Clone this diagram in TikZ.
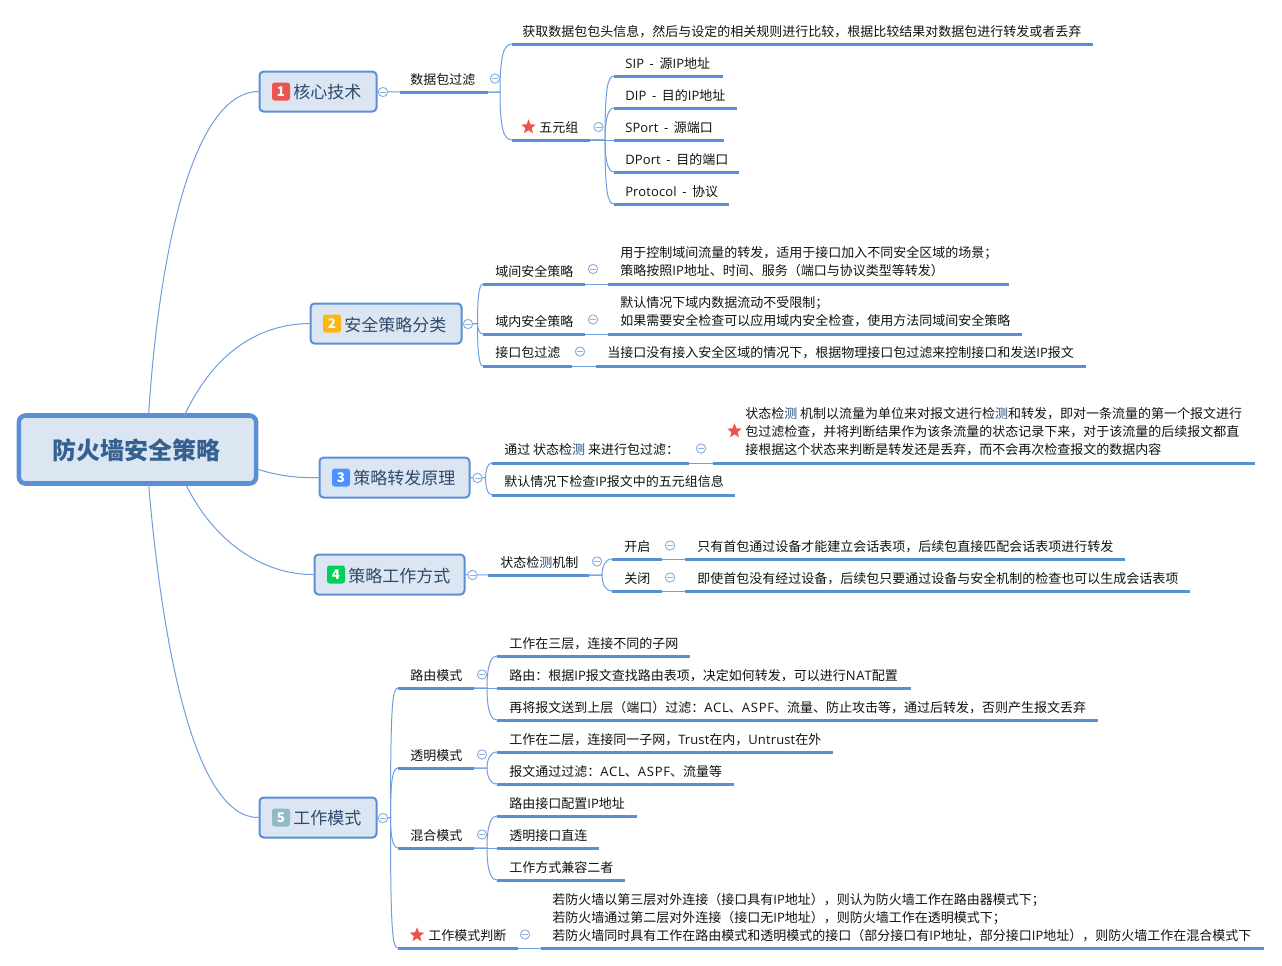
\documentclass[tikz,border=0pt]{standalone}
\usepackage{fontspec}
\setmainfont{Noto Sans CJK SC}
\newfontfamily\latincaps[LetterSpace=6.2]{Open Sans}
\newfontfamily\latinword[LetterSpace=1,WordSpace=1.6]{Open Sans}
\newcommand{\lat}[1]{{\latincaps #1}}
\newcommand{\latw}[1]{{\latinword #1}}
\usetikzlibrary{calc,shapes.geometric}
\definecolor{lineblue}{HTML}{5A8FD6}
\definecolor{thinblue}{HTML}{6F9DDD}
\definecolor{foldblue}{HTML}{8FB2E2}
\definecolor{boxfill}{HTML}{DCE6F3}
\definecolor{roottext}{HTML}{34618F}
\definecolor{branchtext}{HTML}{2E4A6B}
\definecolor{leaftext}{HTML}{111111}
\definecolor{starred}{HTML}{EF5350}
\definecolor{detect}{HTML}{23497A}
\definecolor{badgeamber}{HTML}{FDB515}
\definecolor{badgeblue}{HTML}{4F8FFF}
\definecolor{badgegreen}{HTML}{00CF5A}
\definecolor{badgeteal}{HTML}{8FBCC4}
\tikzset{
  x=0.75pt,y=-0.75pt,
  link/.style={draw=thinblue,line width=0.75pt},
  under/.style={draw=lineblue,line width=2.25pt},
  leaf/.style={anchor=west,inner sep=0pt,text=leaftext,font=\fontsize{9.75}{13.5}\selectfont,align=left},
  rootbox/.style={draw=lineblue,fill=boxfill,line width=3.4pt,rounded corners=5pt,text=roottext,font=\fontsize{18}{20}\selectfont\bfseries,inner sep=0pt,anchor=center},
  branchbox/.style={draw=lineblue,fill=boxfill,line width=1.5pt,rounded corners=3pt,inner sep=0pt},
  branchlabel/.style={anchor=west,inner sep=0pt,text=branchtext,font=\fontsize{12.75}{15}\selectfont},
  badge/.style={fill=#1,rounded corners=2pt,minimum size=13.5pt,inner sep=0pt,text=white,font=\fontsize{10}{10}\selectfont\bfseries},
  fold/.style={circle,draw=foldblue,fill=white,line width=0.75pt,minimum size=7pt,inner sep=0pt,
    path picture={\draw[foldblue,line width=0.6pt] ($(path picture bounding box.center)+(-3,0)$) -- ($(path picture bounding box.center)+(3,0)$);}},
  starmark/.style={star,star points=5,star point ratio=2.3,fill=starred,minimum size=11.5pt,inner sep=0pt},
}
% name, x0, x1, yline, textx, texty, text
\newcommand{\topic}[7]{%
  \coordinate (#1L) at (#2,#4);\coordinate (#1R) at (#3,#4);
  \draw[under] (#1L) -- (#1R);
  \node[leaf] (#1) at (#5,#6+1) {#7};}
% box name, x0,y0,x1,y1, badge colour, number, text
\newcommand{\branch}[8]{%
  \node[branchbox,minimum width={(#4-#2-1)*0.75pt},minimum height={(#5-#3-1)*0.75pt}] (#1) at ({(#2+#4)/2},{(#3+#5)/2}) {};
  \node[badge=#6] (#1i) at ({#2+22},{(#3+#5)/2}) {#7};
  \node[branchlabel] (#1t) at ({#2+34},{(#3+#5)/2+1}) {#8};}
% from, to, horizontal run: runs vertically, then rounds into the child
\newcommand{\elbow}[3]{%
  \coordinate (jj) at ($(#1)+(#3,0)$);
  \draw[link] let \p1=(jj),\p2=(#2),\n1={(\y2>\y1?1:-1)*min(abs(\y2-\y1)*0.5,9pt)} in
    (#1) -- (jj) .. controls (\x1,{\y2-\n1}) and ($(jj|-#2)!.3!(#2)$) .. (#2);}
\newcommand{\foldat}[3]{\node[fold] (#1) at (#2,#3) {};}
\begin{document}
\begin{tikzpicture}
\useasboundingbox (0,0) rectangle (1282,965);
\node[rootbox,minimum width=178pt,minimum height=51pt] (root) at (137.5,449.5) {\kern-0.75pt\raisebox{-7.6pt}[0pt][0pt]{防火墙安全策略}\kern0.75pt};

\branch{b1}{259}{71}{377}{112}{starred}{1}{核心技术}
\branch{b2}{310}{303}{462}{344}{badgeamber}{2}{安全策略分类}
\branch{b3}{319}{457}{470}{498}{badgeblue}{3}{策略转发原理}
\branch{b4}{314}{554}{465}{595}{badgegreen}{4}{策略工作方式}
\branch{b5}{259}{797}{377}{838}{badgeteal}{5}{工作模式}

\draw[link] (root.north west)++(132,2) .. controls +(11,-172) and (195,92) .. (b1.west);
\draw[link] (root.north west)++(168,2) .. controls +(30,-64) and (260,324) .. (b2.west);
\draw[link] (root.east)++(0,20) .. controls +(22,7) and (300,478) .. (b3.west);
\draw[link] (root.south west)++(169,-2) .. controls +(29,60) and (265,575) .. (b4.west);
\draw[link] (root.south west)++(132,-2) .. controls +(14,165) and (195,818) .. (b5.west);

% --- branch 1
\topic{pf}{400}{488}{92}{410}{78.5}{数据包过滤}
\topic{pfa}{512}{1093}{44}{522}{30.5}{获取数据包包头信息，然后与设定的相关规则进行比较，根据比较结果对数据包进行转发或者丢弃}
\topic{five}{512}{590}{140}{539}{126.5}{五元组}
\node[starmark] (fivestar) at (528.5,127) {};
\topic{sip}{614}{723}{76}{625}{62.5}{\latw{SIP - }源\latw{IP}地址}
\topic{dip}{614}{737}{108}{625}{94.5}{\latw{DIP - }目的\latw{IP}地址}
\topic{spo}{614}{724}{140}{625}{126.5}{\latw{SPort - }源端口}
\topic{dpo}{614}{739}{172}{625}{158.5}{\latw{DPort - }目的端口}
\topic{pro}{614}{729}{204}{625}{190.5}{\latw{Protocol - }协议}
\draw[link] (b1.east) -- (pfL);
\elbow{pfR}{pfaL}{12}
\elbow{pfR}{fiveL}{12}
\draw[link] (fiveR) -- (spoL);
\elbow{fiveR}{sipL}{15}
\elbow{fiveR}{dipL}{15}
\elbow{fiveR}{dpoL}{15}
\elbow{fiveR}{proL}{15}
\foldat{f1}{383}{92}
\foldat{f2}{495}{78.5}
\foldat{f3}{598.5}{127}

% --- branch 2
\topic{dj}{483}{585}{284}{495}{270}{域间安全策略}
\topic{djt}{608}{1009}{284}{620}{261}{用于控制域间流量的转发，适用于接口加入不同安全区域的场景；\\策略按照\latw{IP}地址、时间、服务（端口与协议类型等转发）}
\topic{dn}{483}{585}{334}{495}{320}{域内安全策略}
\topic{dnt}{608}{1022}{334}{620}{311}{默认情况下域内数据流动不受限制；\\如果需要安全检查可以应用域内安全检查，使用方法同域间安全策略}
\topic{jk}{483}{572}{366}{495}{352}{接口包过滤}
\topic{jkt}{596}{1086}{366}{607}{352}{当接口没有接入安全区域的情况下，根据物理接口包过滤来控制接口和发送\latw{IP}报文}
\elbow{b2.east}{djL}{15}
\elbow{b2.east}{dnL}{15}
\elbow{b2.east}{jkL}{15}
\draw[link] (djR) -- (djtL);
\draw[link] (dnR) -- (dntL);
\draw[link] (jkR) -- (jktL);
\foldat{f4}{468}{324}
\foldat{f5}{593}{269}
\foldat{f6}{593}{319.5}
\foldat{f7}{580}{351.5}

% --- branch 3
\topic{zt}{492}{689}{463}{504}{449}{通过 状态检{\color{detect}测} 来进行包过滤：}
\topic{ztt}{713}{1255}{463}{745}{431}{状态检{\color{detect}测} 机制以流量为单位来对报文进行检{\color{detect}测}和转发，即对一条流量的第一个报文进行\\包过滤检查，并将判断结果作为该条流量的状态记录下来，对于该流量的后续报文都直\\接根据这个状态来判断是转发还是丢弃，而不会再次检查报文的数据内容}
\node[starmark] (ztstar) at (734.5,431) {};
\topic{mr}{492}{735}{495}{504}{481}{默认情况下检查\latw{IP}报文中的五元组信息}
\elbow{b3.east}{ztL}{15}
\elbow{b3.east}{mrL}{15}
\draw[link] (ztR) -- (zttL);
\foldat{f8}{477.5}{478}
\foldat{f9}{701}{448.5}

% --- branch 4
\topic{zj}{488}{589}{575}{500}{561.5}{状态检{\color{detect}测}机制}
\topic{kq}{612}{662}{559}{624}{545.5}{开启}
\topic{kqt}{685}{1125}{559}{697}{545.5}{只有首包通过设备才能建立会话表项，后续包直接匹配会话表项进行转发}
\topic{gb}{612}{662}{591}{624}{577.5}{关闭}
\topic{gbt}{685}{1190}{591}{697}{577.5}{即使首包没有经过设备，后续包只要通过设备与安全机制的检查也可以生成会话表项}
\draw[link] (b4.east) -- (zjL);
\elbow{zjR}{kqL}{13}
\elbow{zjR}{gbL}{13}
\draw[link] (kqR) -- (kqtL);
\draw[link] (gbR) -- (gbtL);
\foldat{f10}{472.5}{575}
\foldat{f11}{597}{561.5}
\foldat{f12}{670}{545.5}
\foldat{f13}{670}{577.5}

% --- branch 5
\topic{ly}{398}{474}{688}{410}{675}{路由模式}
\topic{lya}{497}{690}{656}{509}{643}{工作在三层，连接不同的子网}
\topic{lyb}{497}{911}{688}{509}{675}{路由：根据\latw{IP}报文查找路由表项，决定如何转发，可以进行\lat{NAT}配置}
\topic{lyc}{497}{1098}{720}{509}{707}{再将报文送到上层（端口）过滤：\lat{ACL}、\lat{ASPF}、流量、防止攻击等，通过后转发，否则产生报文丢弃}
\topic{tm}{398}{474}{768}{410}{755}{透明模式}
\topic{tma}{497}{833}{752}{509}{739}{工作在二层，连接同一子网，\latw{Trust}在内，\latw{Untrust}在外}
\topic{tmb}{497}{734}{784}{509}{771}{报文通过过滤：\lat{ACL}、\lat{ASPF}、流量等}
\topic{hh}{398}{474}{848}{410}{835}{混合模式}
\topic{hha}{497}{637}{816}{509}{803}{路由接口配置\latw{IP}地址}
\topic{hhb}{497}{599}{848}{509}{835}{透明接口直连}
\topic{hhc}{497}{625}{880}{509}{867}{工作方式兼容二者}
\topic{pd}{398}{518}{948}{428}{935}{工作模式判断}
\node[starmark] (pdstar) at (417,935) {};
\topic{pdt}{541}{1264}{948}{552}{917}{若防火墙以第三层对外连接（接口具有\latw{IP}地址），则认为防火墙工作在路由器模式下；\\若防火墙通过第二层对外连接（接口无\latw{IP}地址），则防火墙工作在透明模式下；\\若防火墙同时具有工作在路由模式和透明模式的接口（部分接口有\latw{IP}地址，部分接口\latw{IP}地址），则防火墙工作在混合模式下}
\elbow{b5.east}{lyL}{13}
\elbow{b5.east}{tmL}{13}
\elbow{b5.east}{hhL}{13}
\elbow{b5.east}{pdL}{13}
\draw[link] (lyR) -- (lybL);
\elbow{lyR}{lyaL}{13}
\elbow{lyR}{lycL}{13}
\elbow{tmR}{tmaL}{13}
\elbow{tmR}{tmbL}{13}
\draw[link] (hhR) -- (hhbL);
\elbow{hhR}{hhaL}{13}
\elbow{hhR}{hhcL}{13}
\draw[link] (pdR) -- (pdtL);
\foldat{f14}{383}{818}
\foldat{f15}{482}{674.5}
\foldat{f16}{482}{754.5}
\foldat{f17}{482}{834.5}
\foldat{f18}{525}{934.5}
\end{tikzpicture}
\end{document}
